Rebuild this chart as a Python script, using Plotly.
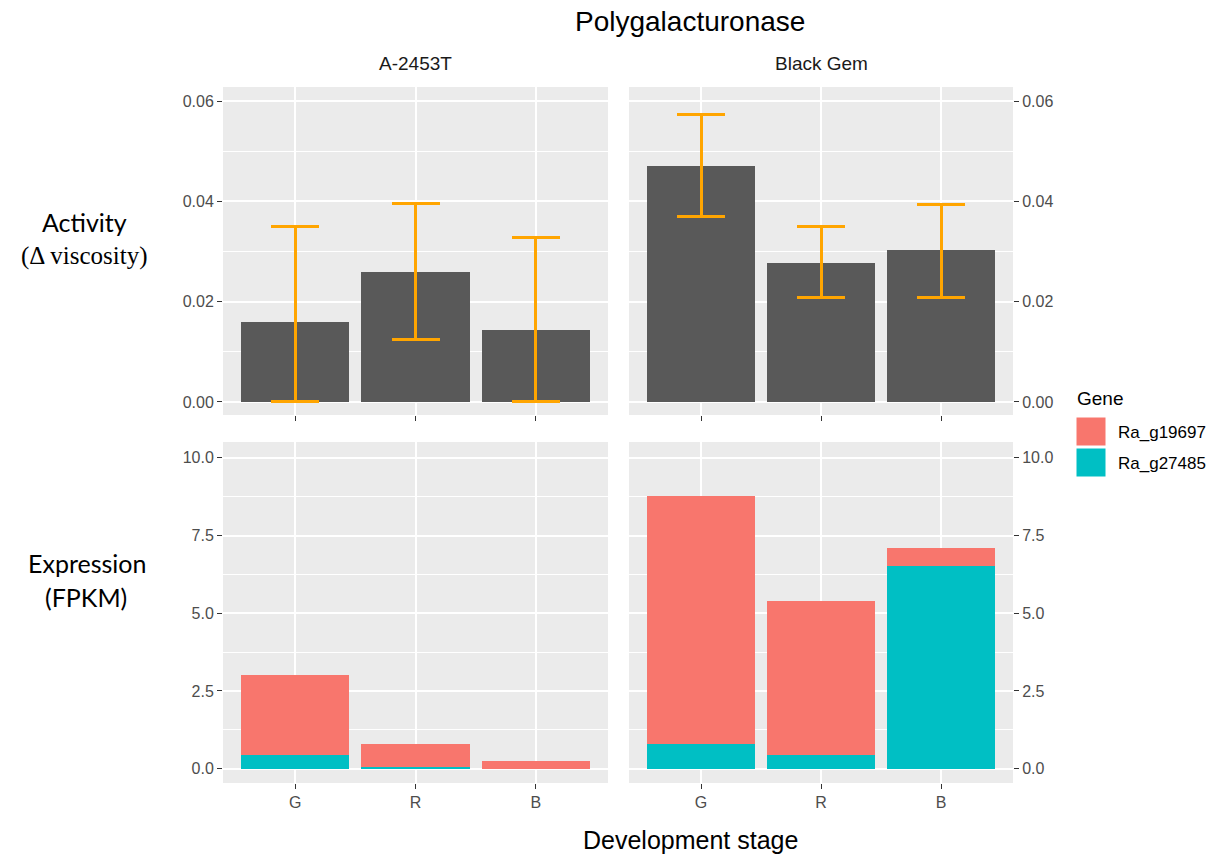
import plotly.graph_objects as go

# ---------------- data ----------------
stages = ["G", "R", "B"]
cultivars = ["A-2453T", "Black Gem"]
genes = ["Ra_g19697", "Ra_g27485"]

activity_a = [0.0160, 0.0259, 0.0143]
activity_a_low = [0.0, 0.0124, 0.0]
activity_a_high = [0.0349, 0.0396, 0.0327]

activity_bg = [0.0471, 0.0278, 0.0303]
activity_bg_low = [0.0369, 0.0209, 0.0209]
activity_bg_high = [0.0573, 0.0349, 0.0393]

expr_a_g19697 = [2.57, 0.74, 0.26]
expr_a_g27485 = [0.43, 0.05, 0.0]
expr_bg_g19697 = [7.99, 4.97, 0.57]
expr_bg_g27485 = [0.79, 0.44, 6.53]

act_ticks = [0.0, 0.02, 0.04, 0.06]
act_minor = [0.01, 0.03, 0.05]
expr_ticks = [0.0, 2.5, 5.0, 7.5, 10.0]
expr_minor = [1.25, 3.75, 6.25, 8.75]

# ---------------- style ----------------
W, H = 1214, 859
BAR_GREY = "#595959"
ERR = "#FFA500"
RED = "#F8766D"
CYAN = "#00BFC4"
PANEL = "#EBEBEB"
TICKTXT = "#4D4D4D"
FONT = "Liberation Sans, Arial, sans-serif"

def px_x(p):
    return p / W

def px_y(p):
    return 1 - p / H

col_dom = [[px_x(223), px_x(608)], [px_x(629), px_x(1013)]]
row_dom = {"top": [px_y(415), px_y(87)], "bottom": [px_y(783), px_y(442)]}

fig = go.Figure()

def err(vals, lo, hi):
    return dict(type="data", symmetric=False,
                array=[h - v for v, h in zip(vals, hi)],
                arrayminus=[v - l for v, l in zip(vals, lo)],
                color=ERR, thickness=3, width=24)

fig.add_trace(go.Bar(x=stages, y=activity_a, width=0.9, marker=dict(color=BAR_GREY, line=dict(width=0)),
                     error_y=err(activity_a, activity_a_low, activity_a_high),
                     xaxis="x", yaxis="y", showlegend=False, name="Activity " + cultivars[0]))
fig.add_trace(go.Bar(x=stages, y=activity_bg, width=0.9, marker=dict(color=BAR_GREY, line=dict(width=0)),
                     error_y=err(activity_bg, activity_bg_low, activity_bg_high),
                     xaxis="x2", yaxis="y2", showlegend=False, name="Activity " + cultivars[1]))

for xa, ya, cyan_vals, red_vals in [("x3", "y3", expr_a_g27485, expr_a_g19697),
                                    ("x4", "y4", expr_bg_g27485, expr_bg_g19697)]:
    fig.add_trace(go.Bar(x=stages, y=cyan_vals, width=0.9, marker=dict(color=CYAN, line=dict(width=0)),
                         xaxis=xa, yaxis=ya, showlegend=False, name=genes[1]))
    fig.add_trace(go.Bar(x=stages, y=red_vals, width=0.9, marker=dict(color=RED, line=dict(width=0)),
                         xaxis=xa, yaxis=ya, showlegend=False, name=genes[0]))

def xaxis(dom, anchor, labels):
    return dict(domain=dom, anchor=anchor, type="category",
                categoryorder="array", categoryarray=stages,
                range=[-0.6, 2.6], showgrid=True, gridcolor="white", gridwidth=1.6,
                zeroline=False, showline=False,
                ticks="outside", ticklen=5, tickwidth=1.2, tickcolor="#333333",
                showticklabels=labels,
                tickfont=dict(family=FONT, size=16, color=TICKTXT))

def yaxis(dom, anchor, side, rng, tv, minor, fmt):
    return dict(domain=dom, anchor=anchor, side=side, range=rng,
                tickvals=tv, tickformat=fmt,
                showgrid=True, gridcolor="white", gridwidth=1.6,
                minor=dict(tickvals=minor, showgrid=True, gridcolor="white", gridwidth=0.8),
                zeroline=False, showline=False,
                ticks="outside", ticklen=5, tickwidth=1.2, tickcolor="#333333",
                tickfont=dict(family=FONT, size=16, color=TICKTXT))

act_range = [-0.0026, 0.0628]
expr_range = [-0.46, 10.51]

fig.update_layout(
    width=W, height=H,
    margin=dict(l=0, r=0, t=0, b=0),
    paper_bgcolor="white",
    barmode="stack",
    showlegend=False,
    xaxis=xaxis(col_dom[0], "y", False),
    xaxis2=xaxis(col_dom[1], "y2", False),
    xaxis3=xaxis(col_dom[0], "y3", True),
    xaxis4=xaxis(col_dom[1], "y4", True),
    yaxis=yaxis(row_dom["top"], "x", "left", act_range, act_ticks, act_minor, ".2f"),
    yaxis2=yaxis(row_dom["top"], "x2", "right", act_range, act_ticks, act_minor, ".2f"),
    yaxis3=yaxis(row_dom["bottom"], "x3", "left", expr_range, expr_ticks, expr_minor, ".1f"),
    yaxis4=yaxis(row_dom["bottom"], "x4", "right", expr_range, expr_ticks, expr_minor, ".1f"),
)

# panel backgrounds
shapes = []
panels = [("x", "y"), ("x2", "y2"), ("x3", "y3"), ("x4", "y4")]
for xa, ya in panels:
    shapes.append(dict(type="rect", xref=xa + " domain", yref=ya + " domain",
                       x0=0, x1=1, y0=0, y1=1, fillcolor=PANEL, line=dict(width=0), layer="below"))

# legend keys (manual, ggplot style)
key_colors = [RED, CYAN]
key_tops = [417, 448]
for c, t in zip(key_colors, key_tops):
    shapes.append(dict(type="rect", xref="paper", yref="paper",
                       x0=px_x(1076), x1=px_x(1106), y0=px_y(t + 29), y1=px_y(t),
                       fillcolor=c, line=dict(color="white", width=1)))
fig.update_layout(shapes=shapes)

ann = []
ann.append(dict(text="Polygalacturonase", x=px_x(690), y=px_y(22), xref="paper", yref="paper",
                showarrow=False, xanchor="center", yanchor="middle",
                font=dict(family=FONT, size=28, color="black")))
for name, cx in zip(cultivars, [415.5, 821]):
    ann.append(dict(text=name, x=px_x(cx), y=px_y(63), xref="paper", yref="paper",
                    showarrow=False, xanchor="center", yanchor="middle",
                    font=dict(family=FONT, size=19, color="#1A1A1A")))
ann.append(dict(text="Activity", x=px_x(84), y=px_y(222), xref="paper", yref="paper",
                showarrow=False, xanchor="center", yanchor="middle",
                font=dict(family="Lato, Open Sans, sans-serif", size=25, color="black")))
ann.append(dict(text="(Δ viscosity)", x=px_x(84), y=px_y(256), xref="paper", yref="paper",
                showarrow=False, xanchor="center", yanchor="middle",
                font=dict(family="Liberation Serif, DejaVu Serif, serif", size=25, color="black")))
ann.append(dict(text="Expression", x=px_x(87), y=px_y(563), xref="paper", yref="paper",
                showarrow=False, xanchor="center", yanchor="middle",
                font=dict(family="Lato, Open Sans, sans-serif", size=25, color="black")))
ann.append(dict(text="(FPKM)", x=px_x(86), y=px_y(597), xref="paper", yref="paper",
                showarrow=False, xanchor="center", yanchor="middle",
                font=dict(family="Lato, Open Sans, sans-serif", size=25, color="black")))
ann.append(dict(text="Development stage", x=px_x(690), y=px_y(840), xref="paper", yref="paper",
                showarrow=False, xanchor="center", yanchor="middle",
                font=dict(family=FONT, size=25, color="black")))
ann.append(dict(text="Gene", x=px_x(1075), y=px_y(398), xref="paper", yref="paper",
                showarrow=False, xanchor="left", yanchor="middle",
                font=dict(family=FONT, size=19, color="black")))
for g, t in zip(genes, key_tops):
    ann.append(dict(text=g, x=px_x(1116), y=px_y(t + 15), xref="paper", yref="paper",
                    showarrow=False, xanchor="left", yanchor="middle",
                    font=dict(family=FONT, size=17, color="black")))
fig.update_layout(annotations=ann)

fig.write_html("out.html")
